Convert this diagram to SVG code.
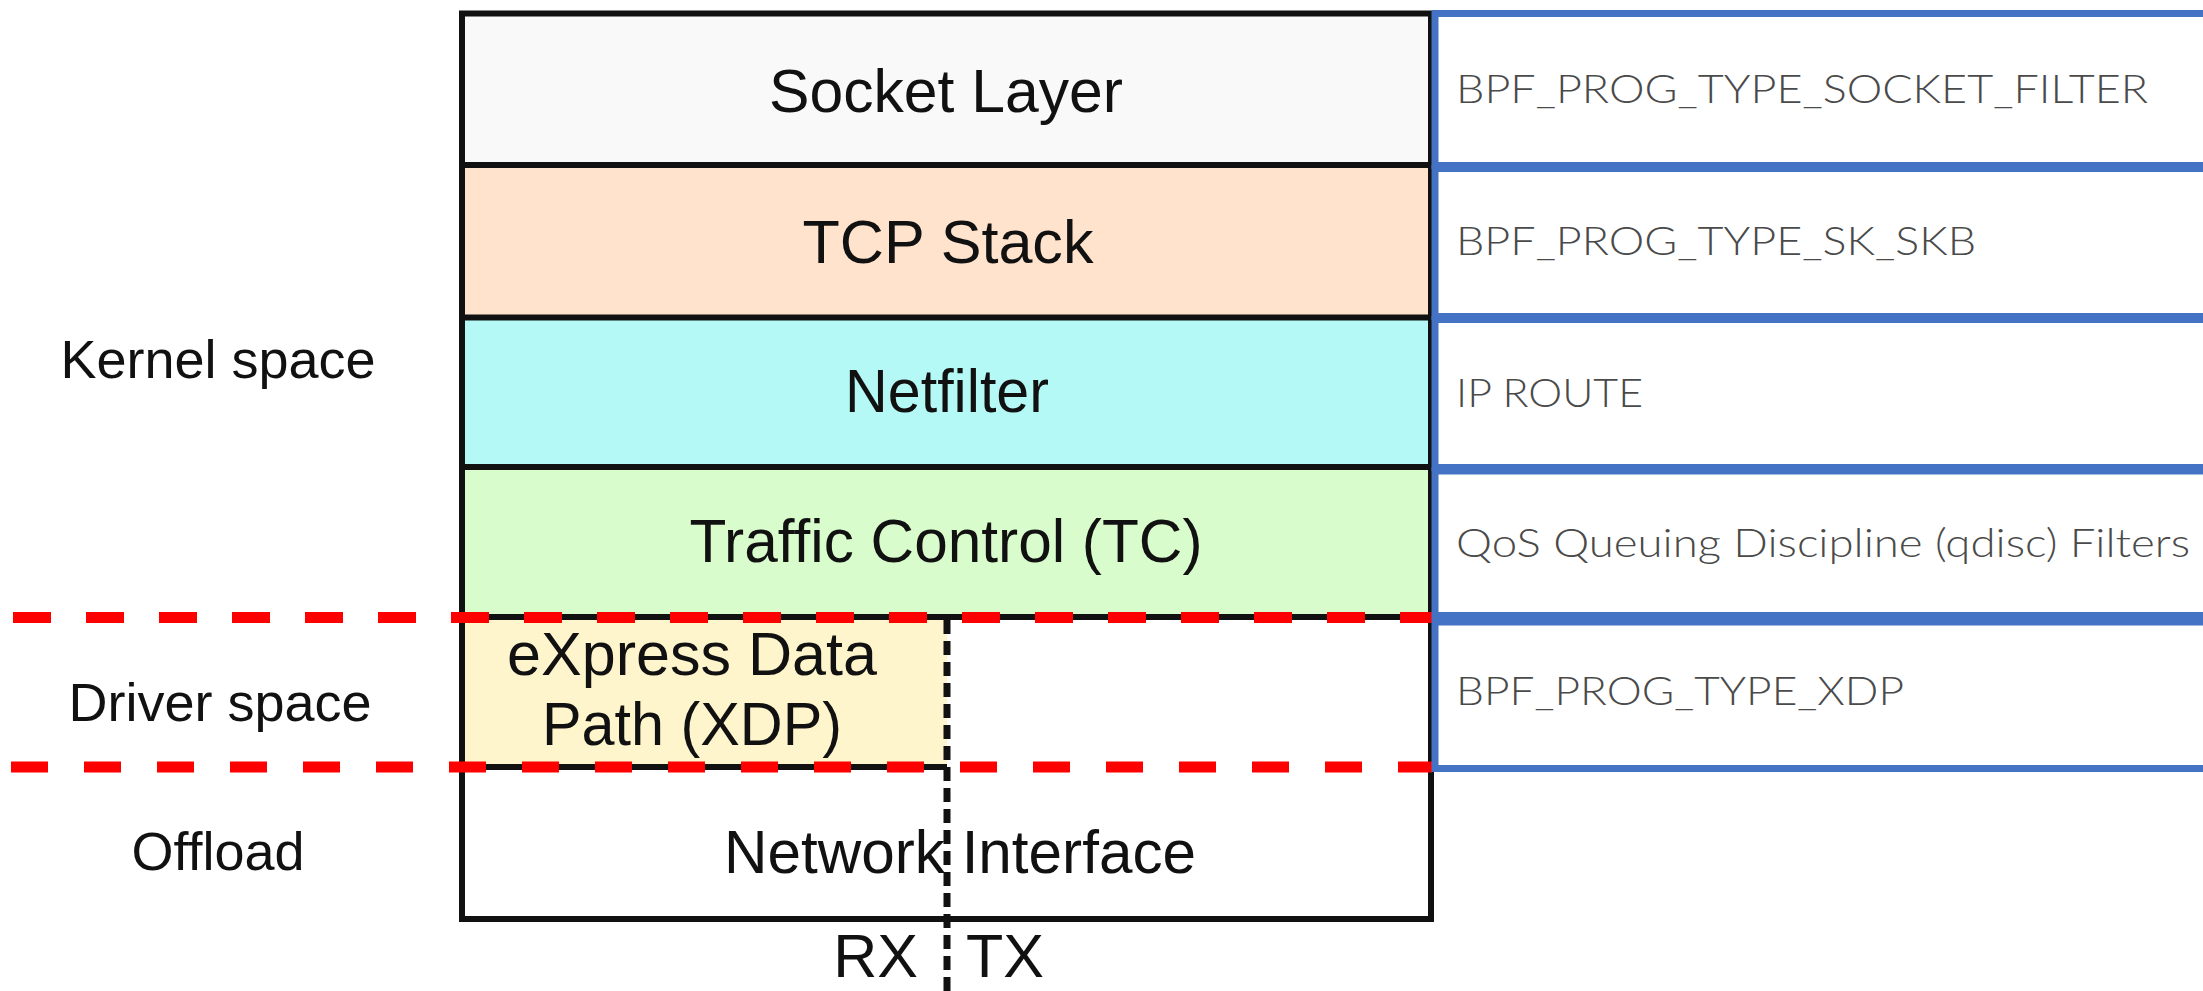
<svg xmlns="http://www.w3.org/2000/svg" width="2203" height="991" viewBox="0 0 2203 991">
  <style>
    .layer { stroke: none; }
    .lbl { font-family: "Liberation Sans", Arial, sans-serif; font-size: 61px; fill: #111; text-anchor: middle; }
    .side { font-family: "Liberation Sans", Arial, sans-serif; font-size: 54px; fill: #111; text-anchor: middle; }
    .hook { fill: #fff; stroke: #4472c4; stroke-width: 7; }
    .hooktxt { font-family: "Lato", "Open Sans", sans-serif; font-weight: 300; font-size: 39px; fill: #4a4a4a; }
    .rule { stroke: #111; stroke-width: 6; fill: none; }
    .bound { stroke: #ff0000; stroke-width: 11; fill: none; }
  </style>
  <rect width="2203" height="991" fill="#ffffff"/>

  <!-- side labels -->
  <g id="label-kernel"><text class="side" x="218" y="378">Kernel space</text></g>
  <g id="label-driver"><text class="side" x="220" y="721">Driver space</text></g>
  <g id="label-offload"><text class="side" x="218" y="870">Offload</text></g>

  <!-- network stack layers -->
  <g id="socket-layer">
    <rect class="layer" x="462" y="14" width="969" height="152" fill="#f9f9f9"/>
    <text class="lbl" x="946" y="112" textLength="354" lengthAdjust="spacingAndGlyphs">Socket Layer</text>
  </g>
  <g id="tcp-stack">
    <rect class="layer" x="462" y="166" width="969" height="152" fill="#ffe3cd"/>
    <text class="lbl" x="948" y="263" textLength="291" lengthAdjust="spacingAndGlyphs">TCP Stack</text>
  </g>
  <g id="netfilter">
    <rect class="layer" x="462" y="318" width="969" height="149" fill="#b5f9f6"/>
    <text class="lbl" x="947" y="412" textLength="204" lengthAdjust="spacingAndGlyphs">Netfilter</text>
  </g>
  <g id="traffic-control">
    <rect class="layer" x="462" y="467" width="969" height="150" fill="#d8fccb"/>
    <text class="lbl" x="946" y="562" textLength="513" lengthAdjust="spacingAndGlyphs">Traffic Control (TC)</text>
  </g>
  <g id="xdp">
    <rect class="layer" x="462" y="617" width="485" height="150" fill="#fff5cc"/>
    <text class="lbl" x="692" y="675" textLength="370" lengthAdjust="spacingAndGlyphs">eXpress Data</text>
    <text class="lbl" x="692" y="745" textLength="300" lengthAdjust="spacingAndGlyphs">Path (XDP)</text>
  </g>
  <g id="network-interface">
    <text class="lbl" x="960" y="873" textLength="472" lengthAdjust="spacingAndGlyphs">Network Interface</text>
  </g>

  <!-- stack outline and dividers -->
  <g id="stack-frame">
    <line class="rule" x1="462" y1="165" x2="1431" y2="165"/>
    <line class="rule" x1="462" y1="317.5" x2="1431" y2="317.5"/>
    <line class="rule" x1="462" y1="467" x2="1431" y2="467"/>
    <line class="rule" x1="462" y1="617" x2="1431" y2="617"/>
    <line class="rule" x1="462" y1="767" x2="947" y2="767"/>
    <rect class="rule" x="462" y="13.5" width="969" height="905.5"/>
  </g>

  <!-- RX / TX split -->
  <g id="rx-tx">
    <line x1="947" y1="620" x2="947" y2="991" stroke="#111" stroke-width="7" stroke-dasharray="14 7"/>
    <text class="lbl" x="918" y="977" style="text-anchor:end">RX</text>
    <text class="lbl" x="966" y="977" style="text-anchor:start">TX</text>
  </g>

  <!-- space boundaries -->
  <g id="connectors">
    <line class="bound" x1="13" y1="617.5" x2="1432" y2="617.5" stroke-dasharray="38 35"/>
    <line class="bound" x1="11" y1="767" x2="1432" y2="767" stroke-dasharray="37 36"/>
  </g>

  <!-- eBPF hook points -->
  <g id="hook-socket-filter">
    <rect class="hook" x="1435" y="13.5" width="800" height="152"/>
    <text class="hooktxt" x="1456" y="103" textLength="692" lengthAdjust="spacingAndGlyphs">BPF_PROG_TYPE_SOCKET_FILTER</text>
  </g>
  <g id="hook-sk-skb">
    <rect class="hook" x="1435" y="168.5" width="800" height="148"/>
    <text class="hooktxt" x="1456" y="255" textLength="520" lengthAdjust="spacingAndGlyphs">BPF_PROG_TYPE_SK_SKB</text>
  </g>
  <g id="hook-ip-route">
    <rect class="hook" x="1435" y="319.5" width="800" height="148"/>
    <text class="hooktxt" x="1456" y="407" textLength="187" lengthAdjust="spacingAndGlyphs">IP ROUTE</text>
  </g>
  <g id="hook-qdisc">
    <rect class="hook" x="1435" y="471" width="800" height="144.5"/>
    <text class="hooktxt" x="1456" y="557" textLength="734" lengthAdjust="spacingAndGlyphs">QoS Queuing Discipline (qdisc) Filters</text>
  </g>
  <g id="hook-xdp">
    <rect class="hook" x="1435" y="622" width="800" height="146.5"/>
    <text class="hooktxt" x="1456" y="705" textLength="448" lengthAdjust="spacingAndGlyphs">BPF_PROG_TYPE_XDP</text>
  </g>
</svg>
